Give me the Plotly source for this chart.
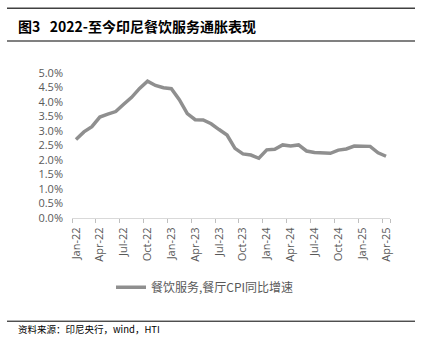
import plotly.graph_objects as go

months = ["Jan", "Feb", "Mar", "Apr", "May", "Jun", "Jul", "Aug", "Sep", "Oct", "Nov", "Dec"]
categories = [f"{m}-{y}" for y in ["22", "23", "24"] for m in months] + ["Jan-25", "Feb-25", "Mar-25", "Apr-25"]

cpi_yoy = [
    2.71, 2.97, 3.15, 3.48, 3.58, 3.67, 3.92, 4.16, 4.47, 4.72, 4.57, 4.49,
    4.46, 4.08, 3.60, 3.39, 3.38, 3.25, 3.05, 2.86, 2.40, 2.21, 2.17, 2.06,
    2.35, 2.37, 2.52, 2.48, 2.52, 2.31, 2.26, 2.23, 2.23, 2.34, 2.38, 2.48,
    2.47, 2.47, 2.25, 2.13,
]
series_name = "餐饮服务,餐厅CPI同比增速"
title_text = "图3   2022-至今印尼餐饮服务通胀表现"
source_text = "资料来源：印尼央行，wind，HTI"
y_ticks = [0.0, 0.5, 1.0, 1.5, 2.0, 2.5, 3.0, 3.5, 4.0, 4.5, 5.0]

W, H = 423, 344
L, R, T, B = 72, 390, 72.6, 218.3
pw, ph = R - L, B - T

def px(x):
    return (x - L) / pw

def py(y):
    return (B - y) / ph

fig = go.Figure()
fig.add_trace(go.Scatter(
    x=categories, y=cpi_yoy, mode="lines", name=series_name,
    line=dict(color="#8f8f8f", width=3.5), showlegend=True,
))

fig.update_layout(
    width=W, height=H,
    margin=dict(l=L, r=W - R, t=T, b=H - B, autoexpand=False),
    paper_bgcolor="white", plot_bgcolor="white",
    font=dict(family="Open Sans", color="#595959", size=11),
    xaxis=dict(
        type="category", categoryorder="array", categoryarray=categories,
        tickmode="array", tickvals=categories[::3], ticktext=categories[::3],
        tickson="boundaries", ticks="outside", ticklen=4, tickcolor="#bfbfbf",
        showline=True, linecolor="#d9d9d9", linewidth=1, showgrid=False,
        tickangle=-90, tickfont=dict(size=11, family="Open Sans", color="#595959"),
        ticklabelstandoff=4,
        range=[-0.5, len(categories) - 0.5],
    ),
    yaxis=dict(
        range=[0, 5], tickvals=y_ticks, ticktext=[f"{v:.1f}%" for v in y_ticks],
        showgrid=False, showline=False, zeroline=False, ticks="",
        tickfont=dict(size=11, family="Open Sans", color="#595959"),
        ticklabelstandoff=8,
    ),
    legend=dict(
        orientation="h", x=px(111), y=py(288), xanchor="left", yanchor="middle",
        font=dict(family="Noto Sans CJK SC", size=12, color="#595959"),
        bgcolor="rgba(0,0,0,0)",
    ),
    showlegend=True,
)

fig.add_annotation(
    xref="paper", yref="paper", x=px(16), y=py(25), xanchor="left", yanchor="middle",
    text="<b>" + title_text + "</b>", showarrow=False,
    font=dict(family="Noto Sans CJK SC", size=14, color="#000000"),
)
fig.add_annotation(
    xref="paper", yref="paper", x=px(16), y=py(330), xanchor="left", yanchor="middle",
    text=source_text, showarrow=False,
    font=dict(family="Noto Sans CJK SC", size=9.5, color="#000000"),
)

fig.add_shape(type="line", xref="paper", yref="paper", x0=px(7), x1=px(415), y0=py(7.5), y1=py(7.5),
              line=dict(color="#404040", width=1.5))
fig.add_shape(type="line", xref="paper", yref="paper", x0=px(7), x1=px(415), y0=py(40.5), y1=py(40.5),
              line=dict(color="#808080", width=2))
fig.add_shape(type="line", xref="paper", yref="paper", x0=px(7), x1=px(415), y0=py(322), y1=py(322),
              line=dict(color="#000000", width=1))

fig.write_html("out.html")
